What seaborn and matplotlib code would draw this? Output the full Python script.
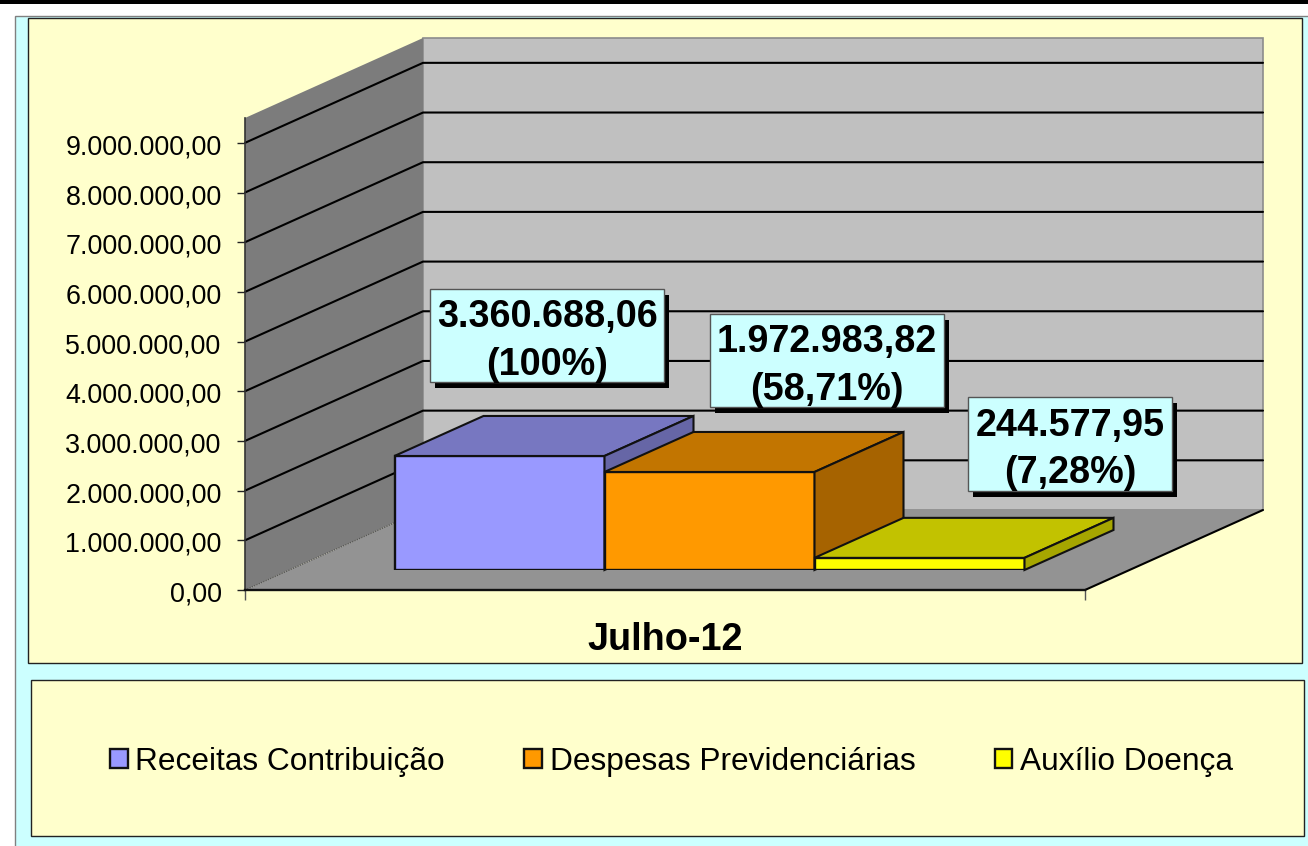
import matplotlib
matplotlib.use('Agg')
import matplotlib.pyplot as plt
from matplotlib.patches import Polygon, Rectangle
from matplotlib.ticker import FuncFormatter
from matplotlib.transforms import ScaledTranslation
import pandas as pd
import seaborn as sns

# Data (first bar is drawn lower than its own label says)
mes = ['Julho-12']
series = ['Receitas Contribuição', 'Despesas Previdenciárias', 'Auxílio Doença']
bar_values = [2295000, 1972983.82, 244577.95]
bar_labels = ['3.360.688,06\n(100%)', '1.972.983,82\n(58,71%)', '244.577,95\n(7,28%)']
y_ticks = [0, 1000000, 2000000, 3000000, 4000000, 5000000, 6000000, 7000000, 8000000, 9000000]

# Colours
front_colors = ['#9999FF', '#FF9900', '#FFFF00']
top_colors = ['#7777C1', '#C27500', '#C2C200']
side_colors = ['#6666A6', '#A66300', '#A6A600']
panel_color = '#FFFFCC'
cyan = '#CCFFFF'

W, H = 1308, 846
Y_MAX = 9500000
# chart geometry, pixels
PLOT_L, PLOT_R, PLOT_B, PLOT_T = 245, 1085, 590, 118
DEPTH_X, DEPTH_Y = 178, 80
BAR_DX, BAR_DY = 89, 40
BAR_PLANE_X, BAR_PLANE_Y = 44.5, 20

sns.set_style('white')
plt.rcParams['font.family'] = ['Liberation Sans', 'DejaVu Sans']

fig = plt.figure(figsize=(W / 100, H / 100), dpi=100)
fig.patch.set_facecolor('white')


def px_rect(x0, y0, x1, y1, zorder=-1, **kw):
    # rectangle given in image pixels, y going down
    r = Rectangle((x0 / W, 1 - y1 / H), (x1 - x0) / W, (y1 - y0) / H,
                  transform=fig.transFigure, zorder=zorder, **kw)
    fig.add_artist(r)
    return r


def px_axes(x0, y0, x1, y1):
    return fig.add_axes([x0 / W, 1 - y1 / H, (x1 - x0) / W, (y1 - y0) / H])


# Page background and the two panels
px_rect(0, 0, W, 4, facecolor='black', edgecolor='none')
px_rect(14.5, 16.5, W + 5, H + 5, facecolor=cyan, edgecolor='#808080', linewidth=1)
px_rect(28, 17.5, 1302, 663, facecolor=panel_color, edgecolor='#222222', linewidth=1)
px_rect(31, 679.5, 1304, 836, facecolor=panel_color, edgecolor='#222222', linewidth=1)

# Walls and floor
ax = px_axes(PLOT_L, PLOT_T, PLOT_R, PLOT_B)
ax.set_zorder(1)
ax.patch.set_visible(False)
ax.set_xlim(-0.5, 0.5)
ax.set_ylim(0, Y_MAX)
per_px_x = 1 / (PLOT_R - PLOT_L)
per_px_y = Y_MAX / (PLOT_B - PLOT_T)
dx = DEPTH_X * per_px_x
dy = DEPTH_Y * per_px_y

back_wall = Polygon([(-0.5 + dx, dy), (0.5 + dx, dy), (0.5 + dx, Y_MAX + dy), (-0.5 + dx, Y_MAX + dy)],
                    facecolor='#C0C0C0', edgecolor='#8C8C8C', linewidth=1.2, clip_on=False, zorder=1)
side_wall = Polygon([(-0.5, 0), (-0.5 + dx, dy), (-0.5 + dx, Y_MAX + dy), (-0.5, Y_MAX)],
                    facecolor='#7C7C7C', edgecolor='none', clip_on=False, zorder=1)
floor = Polygon([(-0.5, 0), (0.5, 0), (0.5 + dx, dy), (-0.5 + dx, dy)],
                facecolor='#939393', edgecolor='none', clip_on=False, zorder=1)
ax.add_patch(back_wall)
ax.add_patch(side_wall)
ax.add_patch(floor)

for v in y_ticks[1:]:
    ax.plot([-0.5, -0.5 + dx, 0.5 + dx], [v, v + dy, v + dy], color='black', linewidth=1.5,
            clip_on=False, zorder=2)
ax.plot([-0.5, -0.5 + dx], [0, dy], color='#555555', linewidth=0.9, linestyle=(0, (1, 1)),
        clip_on=False, zorder=2)
ax.plot([0.5, 0.5 + dx], [0, dy], color='black', linewidth=1.5, clip_on=False, zorder=2)

sns.despine(ax=ax, top=True, right=True)
ax.spines['left'].set_color('#333333')
ax.spines['left'].set_linewidth(1.2)
ax.spines['bottom'].set_color('#111111')
ax.spines['bottom'].set_linewidth(1.7)
ax.set_yticks(y_ticks)
ax.yaxis.set_major_formatter(FuncFormatter(
    lambda v, pos: f'{v:,.2f}'.replace(',', 'X').replace('.', ',').replace('X', '.')))
ax.set_xticks([-0.5, 0.5])
ax.set_xticklabels(['', ''])
ax.tick_params(axis='y', left=True, length=5.8, width=1, color='#222222', pad=11, labelsize=19.4, labelcolor='black')
ax.tick_params(axis='x', bottom=True, length=7.5, width=1, color='#555555', pad=0)
ax.set_xlabel(mes[0], fontsize=27.3, fontweight='bold', color='black', labelpad=15.6)
# tick labels sit a little below their ticks in the original
for lab in ax.get_yticklabels():
    lab.set_transform(lab.get_transform() + ScaledTranslation(0, -1.5 / 100, fig.dpi_scale_trans))

# Bars, in their own axes part way into the floor
ax_bars = px_axes(PLOT_L + BAR_PLANE_X, PLOT_T - BAR_PLANE_Y, PLOT_R + BAR_PLANE_X, PLOT_B - BAR_PLANE_Y)
ax_bars.set_zorder(2)
ax_bars.patch.set_visible(False)
df = pd.DataFrame({'mes': mes * len(series), 'serie': series, 'valor': bar_values})
sns.barplot(data=df, x='mes', y='valor', hue='serie', hue_order=series, palette=front_colors,
            width=0.75, gap=0, saturation=1, edgecolor='#111111', linewidth=1.7, ax=ax_bars)
ax_bars.set_xlim(-0.5, 0.5)
ax_bars.set_ylim(0, Y_MAX)
ax_bars.axis('off')

bdx = BAR_DX * per_px_x
bdy = BAR_DY * per_px_y
for i, cont in enumerate(ax_bars.containers):
    bar = cont[0]
    x0, x1, h = bar.get_x(), bar.get_x() + bar.get_width(), bar.get_height()
    bar.set_zorder(3 + i)
    ax_bars.add_patch(Polygon([(x0, h), (x1, h), (x1 + bdx, h + bdy), (x0 + bdx, h + bdy)],
                              facecolor=top_colors[i], edgecolor='#111111', linewidth=1.5,
                              clip_on=False, zorder=3 + i))
    ax_bars.add_patch(Polygon([(x1, 0), (x1 + bdx, bdy), (x1 + bdx, h + bdy), (x1, h)],
                              facecolor=side_colors[i], edgecolor='#111111', linewidth=1.5,
                              clip_on=False, zorder=3 + i))

sns.move_legend(ax_bars, loc='center', bbox_to_anchor=(671.5 / W, 1 - 762 / H),
                bbox_transform=fig.transFigure, ncol=3, frameon=False, title=None,
                fontsize=22.8, handlelength=0.55, handleheight=0.55, handletextpad=0.25,
                columnspacing=2.5, borderpad=0, labelcolor='black')

# Value boxes
boxes = [(430, 289, 664, 382), (710, 314, 944, 407), (968, 397, 1172, 491)]
for box, label in zip(boxes, bar_labels):
    x0, y0, x1, y1 = box
    px_rect(x0 + 5, y0 + 6, x1 + 5, y1 + 6, zorder=5, facecolor='black', edgecolor='none')
    px_rect(x0, y0, x1, y1, zorder=6, facecolor=cyan, edgecolor='#555555', linewidth=1)
    fig.text((x0 + x1) / 2 / W, 1 - ((y0 + y1) / 2 + 5.5) / H, label, ha='center', va='center',
             fontsize=27.2, fontweight='bold', color='black', linespacing=1.42, zorder=7)

fig.savefig('out.png', dpi=100, facecolor=fig.get_facecolor())
